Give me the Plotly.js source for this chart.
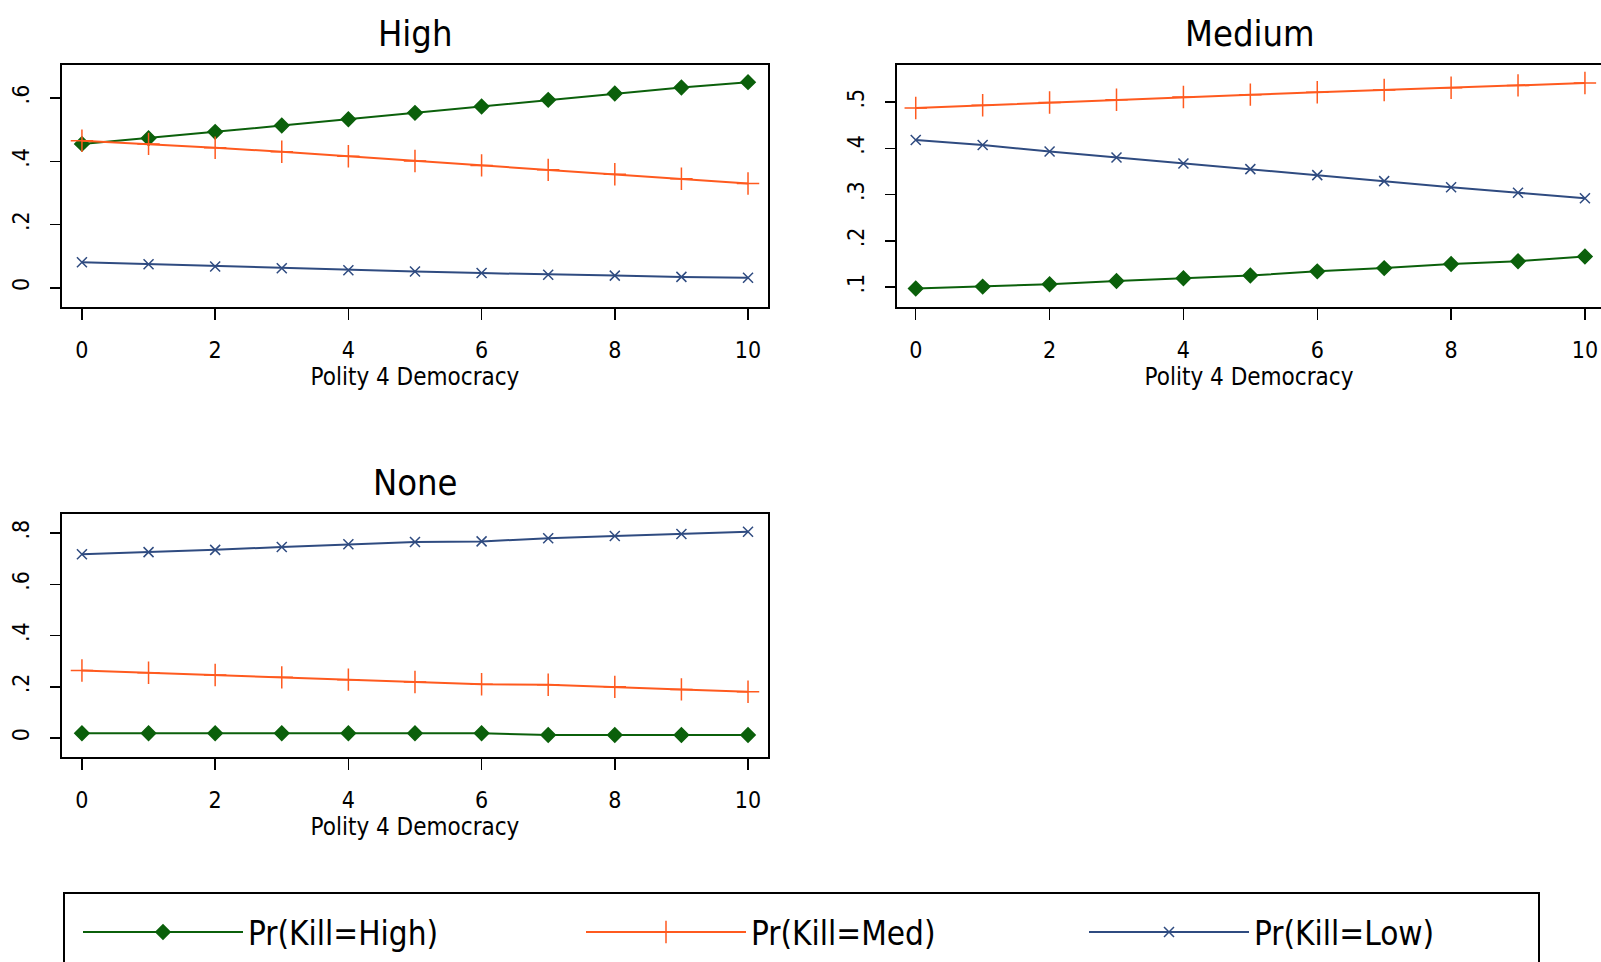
<!DOCTYPE html>
<html><head><meta charset="utf-8">
<script src="https://cdn.plot.ly/plotly-3.0.1.min.js"></script>
<style>html,body{margin:0;padding:0;background:#fff}</style>
</head><body><div id="chart" style="width:1601px;height:962px"></div>
<script>
const democracy = [0,1,2,3,4,5,6,7,8,9,10];
const seriesNames = ["Pr(Kill=High)","Pr(Kill=Med)","Pr(Kill=Low)"];
const panelTitles = ["High","Medium","None"];
// Panel "High"
const highKillHigh = [0.455,0.473,0.493,0.513,0.533,0.553,0.573,0.594,0.614,0.633,0.650];
const highKillMed  = [0.465,0.455,0.443,0.430,0.416,0.401,0.387,0.373,0.359,0.345,0.330];
const highKillLow  = [0.081,0.075,0.068,0.062,0.056,0.052,0.047,0.042,0.039,0.035,0.032];
// Panel "Medium"
const medKillHigh = [0.097,0.101,0.106,0.113,0.119,0.125,0.134,0.141,0.150,0.156,0.166];
const medKillMed  = [0.487,0.493,0.499,0.505,0.511,0.516,0.521,0.526,0.531,0.536,0.541];
const medKillLow  = [0.418,0.407,0.393,0.380,0.367,0.355,0.342,0.329,0.316,0.304,0.292];
// Panel "None"
const noneKillHigh = [0.019,0.019,0.019,0.019,0.019,0.019,0.019,0.012,0.012,0.012,0.012];
const noneKillMed  = [0.264,0.255,0.246,0.237,0.228,0.219,0.210,0.208,0.200,0.190,0.181];
const noneKillLow  = [0.718,0.726,0.735,0.746,0.757,0.766,0.768,0.780,0.789,0.797,0.806];
const xTicks = [0,2,4,6,8,10];
const yTicksHigh = [0,0.2,0.4,0.6], yLabelsHigh = ["0",".2",".4",".6"];
const yTicksMed = [0.1,0.2,0.3,0.4,0.5], yLabelsMed = [".1",".2",".3",".4",".5"];
const yTicksNone = [0,0.2,0.4,0.6,0.8], yLabelsNone = ["0",".2",".4",".6",".8"];

const FONT = '"Liberation Sans Narrow","DejaVu Sans Condensed","Liberation Sans",sans-serif';
const colors = ["#0b600b","#ff5a1f","#2f4b80"];
const symbols = ["diamond","cross-thin-open","x-thin-open"];
const msizes = [11,16,10];

const panels = [
  {data:[highKillHigh,highKillMed,highKillLow], xa:'x', ya:'y'},
  {data:[medKillHigh,medKillMed,medKillLow], xa:'x2', ya:'y2'},
  {data:[noneKillHigh,noneKillMed,noneKillLow], xa:'x3', ya:'y3'}
];
const traces = [];
panels.forEach((p,pi)=>{
  p.data.forEach((vals,si)=>{
    traces.push({
      x: democracy, y: vals, xaxis: p.xa, yaxis: p.ya,
      type:'scatter', mode:'lines+markers', name: seriesNames[si],
      showlegend: pi===0, legendgroup: seriesNames[si],
      line:{color:colors[si], width:2},
      marker:{symbol:symbols[si], size:msizes[si], color:colors[si], line:{color:colors[si], width:1.5}}
    });
  });
});

function xax(domain, anchor, range){
  return {domain, anchor, range, tickvals:xTicks, ticktext:xTicks.map(String),
    showline:true, mirror:true, linecolor:'#000', linewidth:2, ticks:'outside', ticklen:11, tickwidth:1.5, tickcolor:'#000',
    ticklabelstandoff:10,
    showgrid:false, zeroline:false, tickfont:{family:FONT,size:23,color:'#000'},
    title:{text:'Polity 4 Democracy', font:{family:FONT,size:24,color:'#000'}, standoff:0}};
}
function yax(domain, anchor, range, tv, tt){
  return {domain, anchor, range, tickvals:tv, ticktext:tt, tickangle:-90,
    showline:true, mirror:true, linecolor:'#000', linewidth:2, ticks:'outside', ticklen:10, tickwidth:1.5, tickcolor:'#000',
    ticklabelstandoff:12,
    showgrid:false, zeroline:false, tickfont:{family:FONT,size:23,color:'#000'}};
}
const layout = {
  width:1601, height:962, margin:{l:0,r:0,t:0,b:0}, paper_bgcolor:'#fff', plot_bgcolor:'#fff',
  font:{family:FONT,color:'#000'},
  xaxis: xax([0.0387,0.4797],'y',[-0.3,10.3]),
  yaxis: yax([0.6809,0.9324],'x',[-0.06,0.704],yTicksHigh,yLabelsHigh),
  xaxis2: xax([897/1601,1.0],'y2',[-0.28,10.24]),
  yaxis2: yax([0.6809,0.9324],'x2',[0.057,0.58],yTicksMed,yLabelsMed),
  xaxis3: xax([0.0387,0.4797],'y3',[-0.3,10.3]),
  yaxis3: yax([0.2131,0.4657],'x3',[-0.074,0.875],yTicksNone,yLabelsNone),
  annotations: [
    {text:panelTitles[0], x:415/1601, y:1-34/962, xref:'paper', yref:'paper', showarrow:false, font:{family:FONT,size:36}, xanchor:'center', yanchor:'middle'},
    {text:panelTitles[1], x:1250/1601, y:1-34/962, xref:'paper', yref:'paper', showarrow:false, font:{family:FONT,size:36}, xanchor:'center', yanchor:'middle'},
    {text:panelTitles[2], x:415/1601, y:1-483/962, xref:'paper', yref:'paper', showarrow:false, font:{family:FONT,size:36}, xanchor:'center', yanchor:'middle'}
  ],
  shapes: [
    {type:'rect', xref:'paper', yref:'paper', x0:64/1601, x1:1539/1601, y0:-0.05, y1:1-893/962, line:{color:'#000', width:2}}
  ],
  showlegend:true,
  legend:{orientation:'h', x:78/1601, y:1-932/962, xanchor:'left', yanchor:'middle', font:{family:FONT,size:33,color:'#000'},
    entrywidth:328, entrywidthmode:'pixels', itemwidth:160, tracegroupgap:0, bgcolor:'rgba(0,0,0,0)'}
};
Plotly.newPlot('chart', traces, layout, {displayModeBar:false, staticPlot:true});
</script></body></html>
